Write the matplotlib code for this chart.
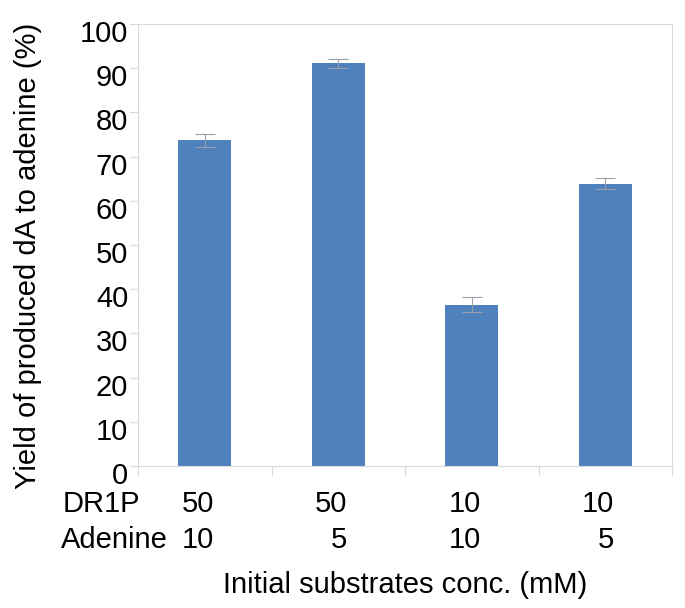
import matplotlib.pyplot as plt
import matplotlib.transforms as mtransforms
import numpy as np

plt.rcParams['font.family'] = ['Liberation Sans', 'DejaVu Sans']

dr1p = ['50', '50', '10', '10']
adenine = ['10', '5', '10', '5']
yield_pct = [73.7, 91.1, 36.5, 63.9]
yield_err = [1.5, 1.0, 1.7, 1.2]

W, H = 685, 608
fig = plt.figure(figsize=(W / 100, H / 100), dpi=100)
ax = fig.add_axes([138 / W, 1 - 466 / H, (672 - 138) / W, (466 - 24) / H])

x = np.arange(len(yield_pct))
ax.bar(x, yield_pct, width=0.4, color='#4F81BD', zorder=2)
ax.errorbar(x, yield_pct, yerr=yield_err, fmt='none', ecolor='#9A9FAA',
            elinewidth=0.8, capsize=7, capthick=0.8, zorder=3)

ax.set_xlim(-0.5, 3.5)
ax.set_ylim(0, 100)
ax.set_yticks(range(0, 101, 10))
ax.set_xticks(np.arange(-0.5, 3.6, 1.0))
ax.set_xticklabels([])
ax.tick_params(axis='y', labelsize=21, length=6, color='#D9D9D9', pad=1)
ax.tick_params(axis='x', length=7, color='#D9D9D9')
# labels in the original sit a little below their tick marks
shift = mtransforms.ScaledTranslation(0, -7 / 100, fig.dpi_scale_trans)
for lab in ax.get_yticklabels():
    lab.set_transform(lab.get_transform() + shift)
for s in ax.spines.values():
    s.set_color('#D9D9D9')
    s.set_linewidth(0.8)

# category table under the axis
trans = mtransforms.blended_transform_factory(ax.transData, fig.transFigure)
nudge = mtransforms.ScaledTranslation(9 / 100, 0, fig.dpi_scale_trans)
for xi, a, b in zip(x, dr1p, adenine):
    ax.text(xi, 1 - 504 / H, a, transform=trans + nudge, ha='right', va='center', fontsize=21)
    ax.text(xi, 1 - 540 / H, b, transform=trans + nudge, ha='right', va='center', fontsize=21)
fig.text(63 / W, 1 - 504 / H, 'DR1P', ha='left', va='center', fontsize=21)
fig.text(61 / W, 1 - 540 / H, 'Adenine', ha='left', va='center', fontsize=21)

fig.text(405 / W, 1 - 585 / H, 'Initial substrates conc. (mM)', ha='center', va='center', fontsize=21)
fig.text(28 / W, 1 - 256 / H, 'Yield of produced dA to adenine (%)', rotation=90,
         ha='center', va='center', fontsize=21)

fig.savefig('out.png', dpi=100)
